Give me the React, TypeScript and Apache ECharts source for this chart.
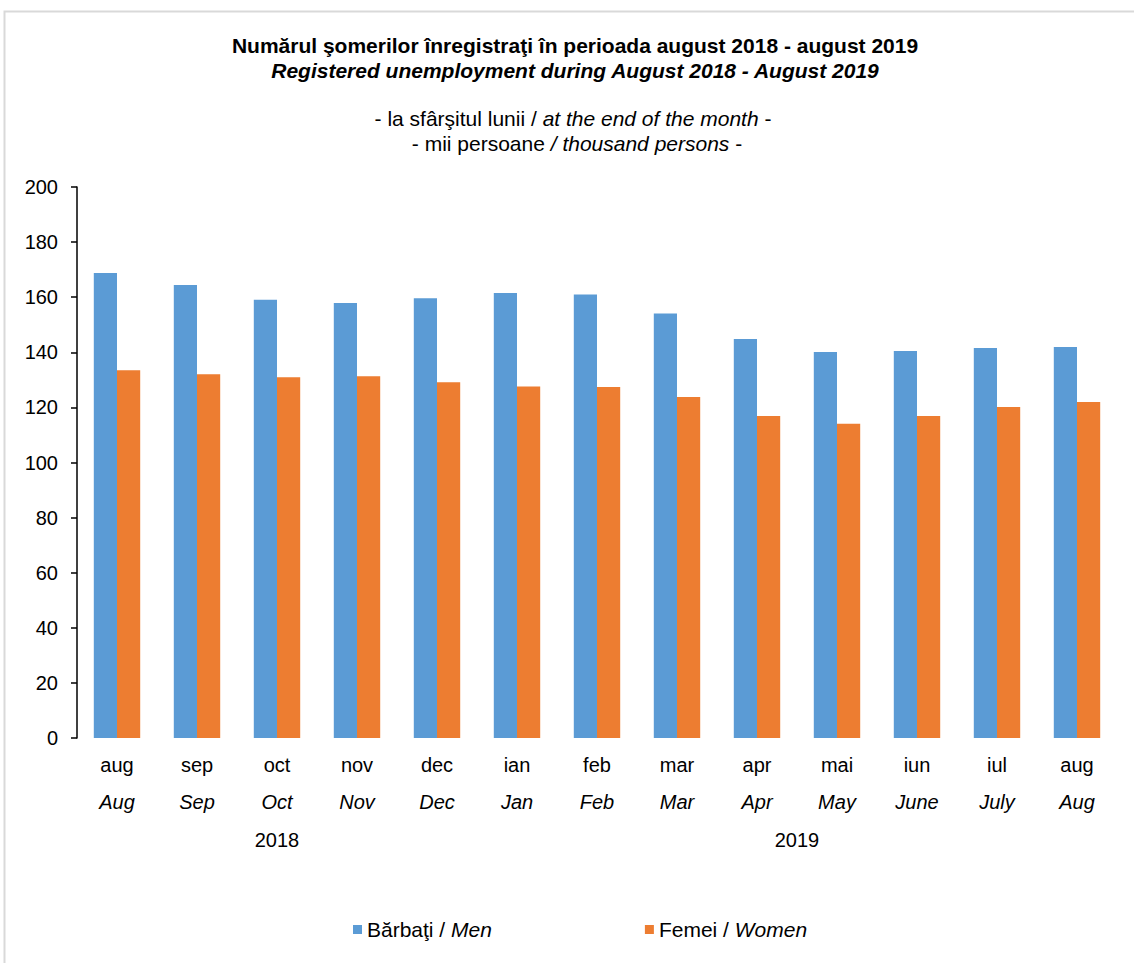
import React, { useEffect, useRef } from "react";
import * as echarts from "echarts";

const roLabels = ["aug", "sep", "oct", "nov", "dec", "ian", "feb", "mar", "apr", "mai", "iun", "iul", "aug"];
const enLabels = ["Aug", "Sep", "Oct", "Nov", "Dec", "Jan", "Feb", "Mar", "Apr", "May", "June", "July", "Aug"];
const categories = roLabels.map((r, i) => `${r}|${enLabels[i]}|${i}`);
const menValues = [168.8, 164.4, 159.1, 157.9, 159.6, 161.5, 161.0, 154.1, 144.8, 140.1, 140.5, 141.6, 141.9];
const womenValues = [133.5, 132.0, 130.9, 131.3, 129.1, 127.6, 127.4, 123.8, 116.9, 114.1, 116.9, 120.1, 122.0];
const yearGroups = [
  { year: "2018", from: 0, to: 4 },
  { year: "2019", from: 5, to: 12 },
];
const yTicks = { min: 0, max: 200, interval: 20 };

const FONT = "Liberation Sans, Arial, sans-serif";

export default function App() {
  const ref = useRef<HTMLDivElement>(null);
  useEffect(() => {
    if (!ref.current) return;
    const chart = echarts.init(ref.current, undefined, { renderer: "svg" });
    const option: any = {
      animation: false,
      backgroundColor: "#ffffff",
      textStyle: { fontFamily: FONT },
      grid: { left: 77, right: 17, top: 187, bottom: 225, containLabel: false },
      xAxis: {
        type: "category",
        data: categories,
        axisLine: { show: false },
        axisTick: { show: false },
        axisLabel: {
          interval: 0,
          margin: 8,
          color: "#000",
          fontSize: 20,
          lineHeight: 37,
          fontFamily: FONT,
          formatter: (v: string) => {
            const [ro, en] = v.split("|");
            return `${ro}\n{it|${en}}`;
          },
          rich: {
            it: { fontStyle: "italic", fontSize: 20, lineHeight: 37, color: "#000", fontFamily: FONT },
          },
        },
      },
      yAxis: {
        type: "value",
        min: yTicks.min,
        max: yTicks.max,
        interval: yTicks.interval,
        axisLine: { show: true, lineStyle: { color: "#000", width: 1.5 } },
        axisTick: { show: true, length: 6, lineStyle: { color: "#000", width: 1.5 } },
        axisLabel: { color: "#000", fontSize: 20, margin: 19, fontFamily: FONT },
        splitLine: { show: false },
      },
      legend: {
        left: 348,
        top: 914,
        icon: "rect",
        itemWidth: 9,
        itemHeight: 9,
        itemGap: 153,
        textStyle: {
          color: "#000",
          fontSize: 21,
          fontFamily: FONT,
          rich: { it: { fontStyle: "italic", fontSize: 21, color: "#000", fontFamily: FONT } },
        },
        formatter: (name: string) => {
          const [a, b] = name.split(" / ");
          return `${a} / {it|${b}}`;
        },
        data: ["Bărbaţi / Men", "Femei / Women"],
      },
      series: [
        {
          name: "Bărbaţi / Men",
          type: "bar",
          data: menValues,
          barGap: "0%",
          barCategoryGap: "42%",
          itemStyle: { color: "#5b9bd5" },
        },
        {
          name: "Femei / Women",
          type: "bar",
          data: womenValues,
          barGap: "0%",
          barCategoryGap: "42%",
          itemStyle: { color: "#ed7d31" },
        },
      ],
      graphic: [
        {
          type: "rect",
          shape: { x: 4.5, y: 11.5, width: 1140, height: 960 },
          style: { fill: "none", stroke: "#d9d9d9", lineWidth: 2 },
          silent: true,
        },
        {
          type: "text",
          x: 575,
          y: 45,
          style: {
            text: "Numărul şomerilor înregistraţi în perioada august 2018 - august 2019",
            fontSize: 21,
            fontWeight: "bold",
            fontFamily: FONT,
            fill: "#000",
            textAlign: "center",
            textVerticalAlign: "middle",
          },
        },
        {
          type: "text",
          x: 575,
          y: 70,
          style: {
            text: "Registered unemployment during August 2018 - August 2019",
            fontSize: 21,
            fontWeight: "bold",
            fontStyle: "italic",
            fontFamily: FONT,
            fill: "#000",
            textAlign: "center",
            textVerticalAlign: "middle",
          },
        },
        {
          type: "text",
          x: 573,
          y: 118,
          style: {
            text: "- la sfârşitul lunii / {it|at the end of the month} -",
            fontSize: 21,
            fontFamily: FONT,
            fill: "#000",
            textAlign: "center",
            textVerticalAlign: "middle",
            rich: { it: { fontStyle: "italic", fontSize: 21, fontFamily: FONT, fill: "#000" } },
          },
        },
        {
          type: "text",
          x: 577,
          y: 143,
          style: {
            text: "- mii persoane {it|/ thousand persons} -",
            fontSize: 21,
            fontFamily: FONT,
            fill: "#000",
            textAlign: "center",
            textVerticalAlign: "middle",
            rich: { it: { fontStyle: "italic", fontSize: 21, fontFamily: FONT, fill: "#000" } },
          },
        },
      ],
    };
    chart.setOption(option);
    const yearGraphics = yearGroups.map((g) => {
      const x1 = chart.convertToPixel({ xAxisIndex: 0 }, categories[g.from]) as number;
      const x2 = chart.convertToPixel({ xAxisIndex: 0 }, categories[g.to]) as number;
      return {
        type: "text",
        x: (x1 + x2) / 2,
        y: 840,
        style: {
          text: g.year,
          fontSize: 20,
          fontFamily: FONT,
          fill: "#000",
          textAlign: "center",
          textVerticalAlign: "middle",
        },
      };
    });
    chart.setOption({ graphic: [...option.graphic, ...yearGraphics] });
    return () => chart.dispose();
  }, []);
  return (
    <div
      ref={ref}
      style={{ position: "absolute", left: 0, top: 0, width: 1134, height: 963 }}
    />
  );
}
